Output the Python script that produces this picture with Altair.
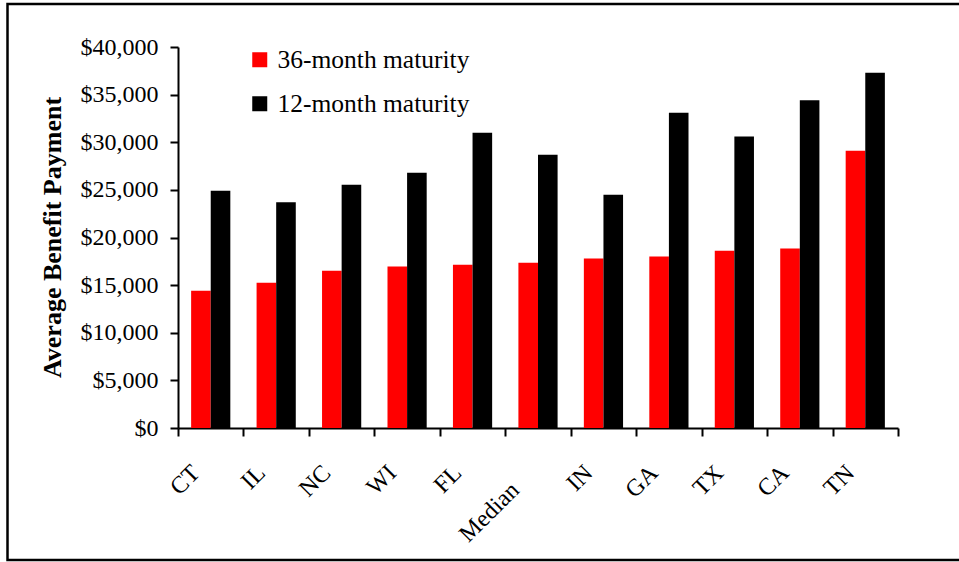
import altair as alt
import pandas as pd

# Average benefit payment by state, two maturity terms
states = ["CT", "IL", "NC", "WI", "FL", "Median", "IN", "GA", "TX", "CA", "TN"]
maturity_36 = [14400, 15250, 16500, 16950, 17150, 17350, 17800, 18000, 18600, 18850, 29100]
maturity_12 = [24900, 23700, 25550, 26800, 31000, 28700, 24500, 33100, 30600, 34400, 37300]
series_names = ["36-month maturity", "12-month maturity"]
series_colors = ["#FF0000", "#000000"]
y_ticks = [0, 5000, 10000, 15000, 20000, 25000, 30000, 35000, 40000]

rows = []
for i, s in enumerate(states):
    rows.append({"state": s, "series": series_names[0], "value": maturity_36[i]})
    rows.append({"state": s, "series": series_names[1], "value": maturity_12[i]})
df = pd.DataFrame(rows)

FONT = "Liberation Serif"

bars = alt.Chart(df).mark_bar().encode(
    x=alt.X(
        "state:N",
        sort=states,
        scale=alt.Scale(paddingInner=0, paddingOuter=0),
        axis=alt.Axis(
            title=None,
            labelAngle=-45,
            labelAlign="right",
            labelBaseline="middle",
            labelFont=FONT,
            labelFontSize=24,
            labelColor="black",
            labelOffset=alt.condition("datum.value == 'Median'", alt.value(-23), alt.value(-15)),
            labelPadding=alt.condition("datum.value == 'Median'", alt.value(50), alt.value(33)),
            labelOverlap=False,
            labelBound=False,
            tickBand="extent",
            tickSize=8,
            tickWidth=2,
            tickColor="black",
            domainWidth=2,
            domainColor="black",
        ),
    ),
    xOffset=alt.XOffset(
        "series:N",
        sort=series_names,
        scale=alt.Scale(paddingInner=0, paddingOuter=0.67),
    ),
    y=alt.Y(
        "value:Q",
        scale=alt.Scale(domain=[0, 40000], nice=False, zero=True),
        axis=alt.Axis(
            title="Average Benefit Payment",
            titleFont=FONT,
            titleFontSize=26,
            titleFontWeight="bold",
            titleColor="black",
            titleAngle=-90,
            titleBaseline="alphabetic",
            titleAlign="center",
            titleX=-118,
            titleY=190,
            values=y_ticks,
            format="$,.0f",
            labelFont=FONT,
            labelFontSize=24,
            labelColor="black",
            labelPadding=12,
            grid=False,
            tickSize=8,
            tickWidth=2,
            tickColor="black",
            domainWidth=2,
            domainColor="black",
        ),
    ),
    color=alt.Color(
        "series:N",
        sort=series_names,
        scale=alt.Scale(domain=series_names, range=series_colors),
        legend=alt.Legend(
            title=None,
            orient="none",
            legendX=69,
            legendY=0,
            symbolType="square",
            symbolSize=225,
            symbolStrokeWidth=0,
            symbolOpacity=1,
            labelFont=FONT,
            labelFontSize=25.5,
            labelColor="black",
            labelLimit=0,
            labelOffset=5,
            rowPadding=17,
            padding=0,
        ),
    ),
)

# Frame drawn around the whole figure
frame = alt.Chart(pd.DataFrame({"k": [0]})).mark_rect(
    fill=None, stroke="black", strokeWidth=2.5
).encode(
    x=alt.value(-170.5),
    x2=alt.value(790),
    y=alt.value(-43),
    y2=alt.value(513),
)

chart = alt.layer(bars, frame).properties(
    width=720,
    height=381,
    autosize=alt.AutoSizeParams(type="none"),
    padding={"left": 178, "top": 47, "right": 61, "bottom": 134},
    background="white",
).configure_view(stroke=None)

chart.save("out.html", embed_options={"renderer": "svg", "actions": False})
